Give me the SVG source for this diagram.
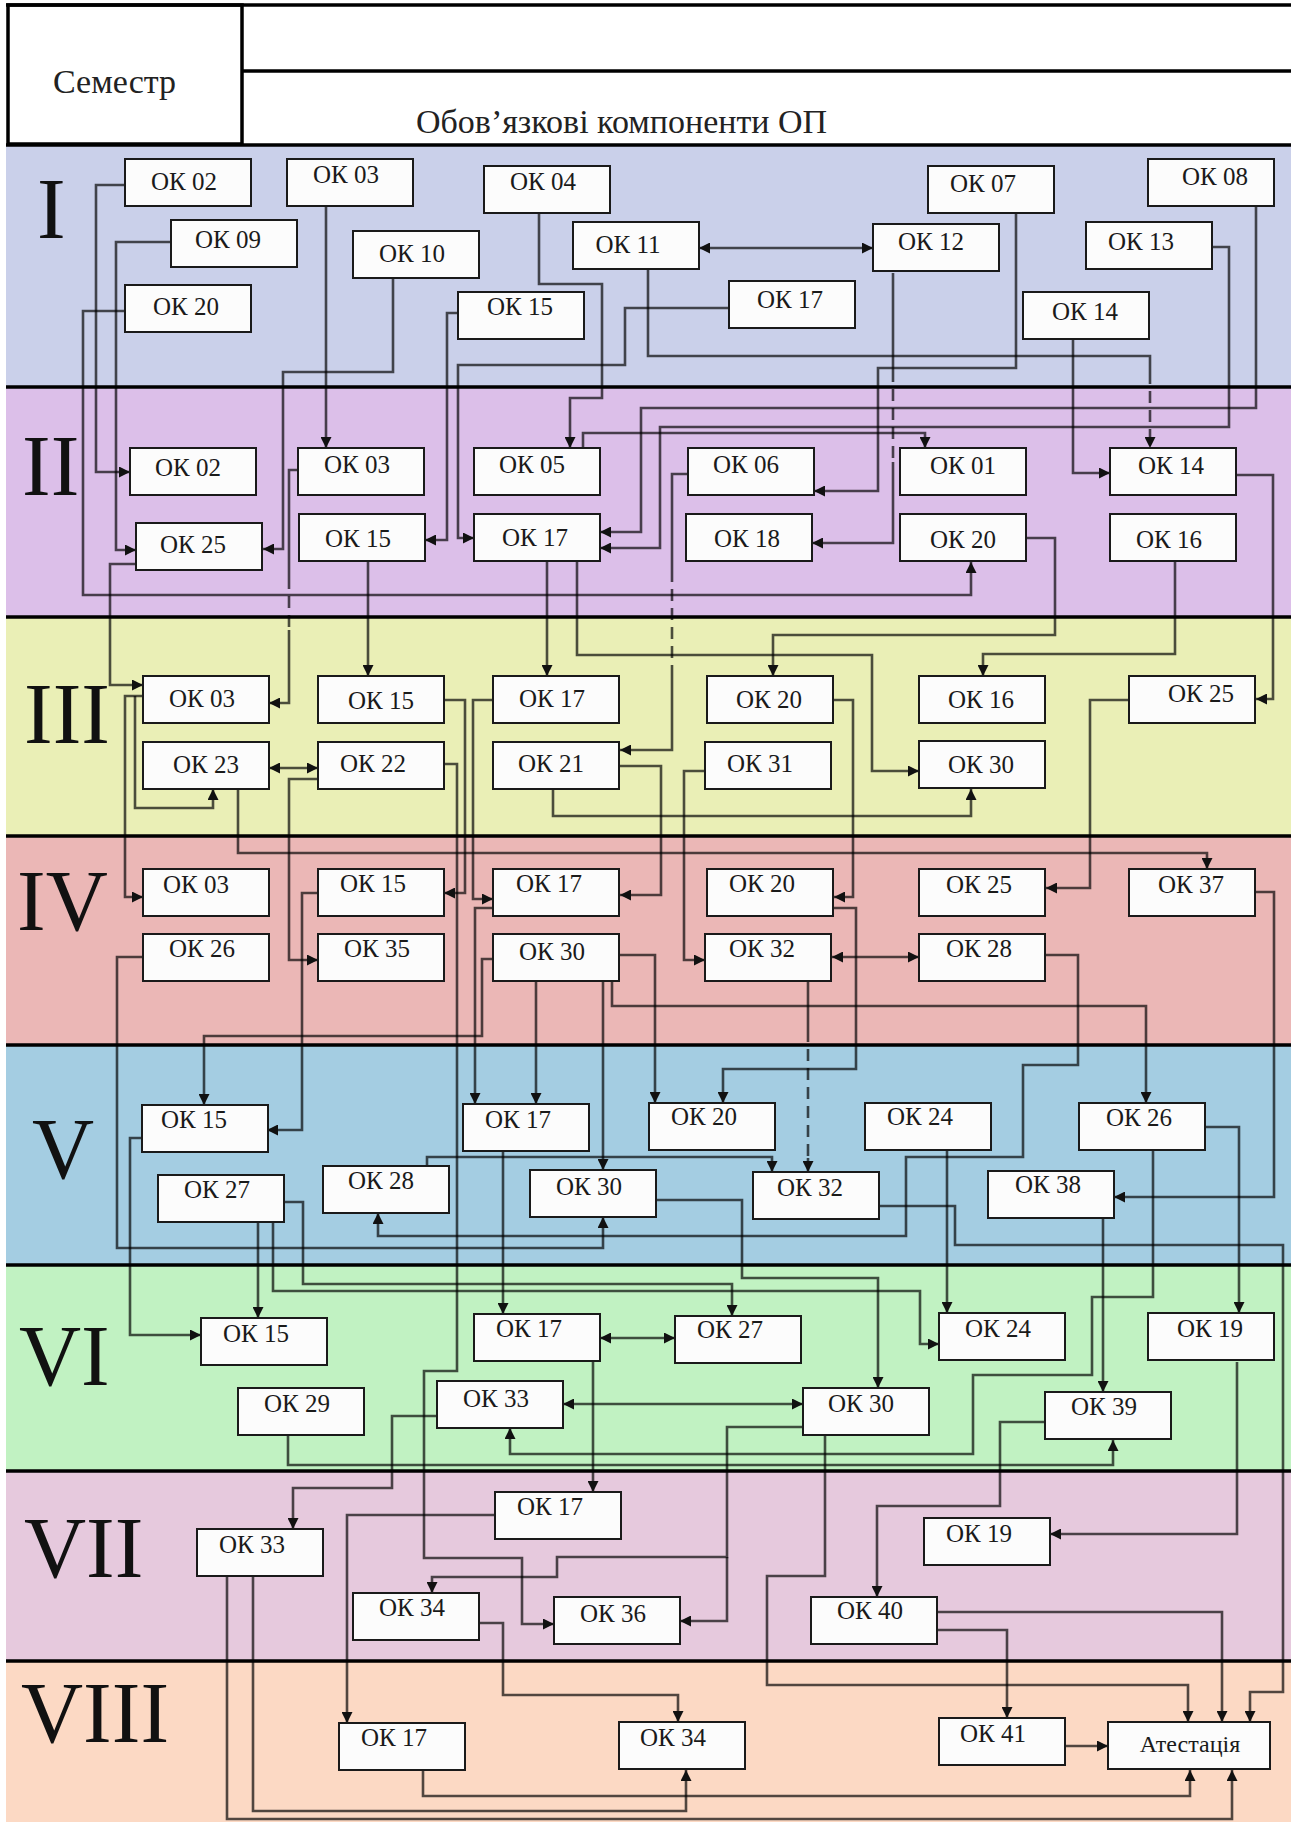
<svg xmlns="http://www.w3.org/2000/svg" width="1291" height="1823" viewBox="0 0 1291 1823">
<style>
.node rect{fill:#fcfcfc;stroke:#1a1a1a;stroke-width:2}
.node text{font-family:"Liberation Serif","Times New Roman",serif;font-size:25px;text-anchor:middle;fill:#1a1a1a}
.roman{font-family:"Liberation Serif","Times New Roman",serif;font-size:86px;fill:#111}
.hdr{font-family:"Liberation Serif","Times New Roman",serif;font-size:34px;fill:#222}
.sep{stroke:#000;stroke-width:3.5}
#connectors path{fill:none;stroke:#000;stroke-opacity:0.68;stroke-width:2.6;marker-end:url(#ah)}
#connectors path.nm{marker-end:none}
#connectors path.bi{marker-start:url(#ah)}
#connectors path.dash{stroke-dasharray:12 7}
</style>
<defs>
<marker id="ah" viewBox="0 0 10 10" refX="10" refY="5" markerWidth="11" markerHeight="11" markerUnits="userSpaceOnUse" orient="auto-start-reverse">
<path d="M0,0 L10,5 L0,10 z" fill="#111"/>
</marker>
</defs>
<rect x="0" y="0" width="1291" height="1823" fill="#ffffff"/>
<!-- bands -->
<g id="bands">
<rect x="6" y="145" width="1285" height="242" fill="#cad0ea"/>
<rect x="6" y="387" width="1285" height="230" fill="#dcbfe9"/>
<rect x="6" y="617" width="1285" height="219" fill="#eaefb6"/>
<rect x="6" y="836" width="1285" height="209" fill="#ebb7b6"/>
<rect x="6" y="1045" width="1285" height="220" fill="#a4cde2"/>
<rect x="6" y="1265" width="1285" height="206" fill="#c1f2c2"/>
<rect x="6" y="1471" width="1285" height="190" fill="#e6c9dd"/>
<rect x="6" y="1661" width="1285" height="161" fill="#fcd9c4"/>
</g>
<!-- header -->
<g id="header">
<line x1="6" y1="5" x2="1291" y2="5" class="sep"/>
<line x1="242" y1="71" x2="1291" y2="71" class="sep"/>
<rect x="8" y="5" width="234" height="139" fill="none" stroke="#000" stroke-width="3.5"/>
<text x="53" y="93" class="hdr">Семестр</text>
<text x="416" y="133" class="hdr">Обов’язкові компоненти ОП</text>
</g>
<g id="separators">
<line x1="6" y1="145" x2="1291" y2="145" class="sep" stroke-width="4.5"/>
<line x1="6" y1="387" x2="1291" y2="387" class="sep"/>
<line x1="6" y1="617" x2="1291" y2="617" class="sep"/>
<line x1="6" y1="836" x2="1291" y2="836" class="sep"/>
<line x1="6" y1="1045" x2="1291" y2="1045" class="sep"/>
<line x1="6" y1="1265" x2="1291" y2="1265" class="sep"/>
<line x1="6" y1="1471" x2="1291" y2="1471" class="sep"/>
<line x1="6" y1="1661" x2="1291" y2="1661" class="sep"/>
</g>
<g id="semesters">
<text x="37" y="238" class="roman">I</text>
<text x="22" y="495" class="roman">II</text>
<text x="24" y="743" class="roman">III</text>
<text x="17" y="930" class="roman">IV</text>
<text x="32" y="1178" class="roman">V</text>
<text x="19" y="1385" class="roman">VI</text>
<text x="24" y="1577" class="roman">VII</text>
<text x="21" y="1742" class="roman">VIII</text>
</g>
<!-- connectors -->
<g id="connectors">
<path d="M125,185 H96 V472 H130"/>
<path d="M171,242 H116 V550 H136"/>
<path d="M125,311 H83 V595 H971 V562"/>
<path d="M326,207 V448"/>
<path d="M393,278 V372 H283 V549 H263"/>
<path d="M539,213 V284 H602 V398 H570 V448"/>
<path d="M458,313 H447 V540 H425"/>
<path d="M729,308 H625 V365 H458 V538 H474"/>
<path class="bi" d="M699,248 H873"/>
<path class="nm" d="M648,269 V356 H1150 V372"/>
<path class="dash" d="M1150,372 V448"/>
<path class="nm" d="M893,273 V370"/>
<path class="nm dash" d="M893,370 V462"/>
<path d="M893,462 V543 H812"/>
<path d="M1016,213 V368 H878 V491 H814"/>
<path d="M1256,207 V408 H641 V532 H600"/>
<path d="M1212,247 H1229 V427 H660 V548 H600"/>
<path d="M583,448 V433 H925 V448"/>
<path d="M1073,340 V473 H1110"/>
<path d="M136,564 H110 V685 H143"/>
<path class="nm" d="M298,470 H289 V577"/>
<path class="nm dash" d="M289,577 V630"/>
<path d="M289,630 V703 H269"/>
<path d="M368,562 V676"/>
<path d="M547,562 V676"/>
<path d="M577,562 V655 H872 V771 H919"/>
<path d="M1026,538 H1055 V635 H773 V676"/>
<path d="M1175,562 V654 H983 V676"/>
<path d="M1236,475 H1273 V699 H1256"/>
<path class="nm" d="M688,474 H672 V570"/>
<path class="nm dash" d="M672,570 V667"/>
<path d="M672,667 V750 H620"/>
<path d="M143,696 H125 V897 H143"/>
<path d="M135,696 V808 H213 V789"/>
<path class="bi" d="M269,768 H318"/>
<path d="M318,779 H289 V960 H318"/>
<path d="M238,789 V853 H1207 V869"/>
<path d="M444,700 H465 V893 H444"/>
<path d="M444,764 H457 V1371 H424 V1558 H522 V1624 H554"/>
<path d="M493,700 H473 V899 H493"/>
<path d="M620,766 H661 V895 H620"/>
<path d="M553,789 V816 H971 V789"/>
<path d="M705,771 H684 V960 H705"/>
<path d="M834,700 H853 V897 H834"/>
<path d="M1129,700 H1090 V888 H1046"/>
<path d="M318,893 H302 V1130 H267"/>
<path d="M493,908 H475 V1104"/>
<path d="M536,982 V1104"/>
<path d="M493,959 H482 V1036 H204 V1105"/>
<path d="M603,982 V1170"/>
<path d="M619,955 H655 V1103"/>
<path d="M612,982 V1006 H1146 V1103"/>
<path d="M834,908 H856 V1069 H723 V1103"/>
<path class="nm" d="M808,982 V1030"/>
<path class="nm dash" d="M808,1030 V1158"/>
<path d="M808,1158 V1172"/>
<path class="bi" d="M832,957 H919"/>
<path d="M1256,892 H1274 V1197 H1114"/>
<path d="M1046,955 H1078 V1065 H1023 V1157 H906 V1236 H378 V1213"/>
<path d="M143,957 H117 V1248 H603 V1217"/>
<path d="M142,1138 H130 V1335 H201"/>
<path d="M258,1223 V1318"/>
<path d="M284,1202 H303 V1284 H732 V1316"/>
<path d="M273,1223 V1291 H920 V1344 H939"/>
<path d="M656,1200 H742 V1278 H878 V1388"/>
<path d="M503,1152 V1314"/>
<path d="M427,1166 V1157 H772 V1172"/>
<path d="M878,1206 H955 V1245 H1283 V1692 H1250 V1722"/>
<path d="M947,1150 V1313"/>
<path d="M1205,1127 H1239 V1313"/>
<path d="M1153,1150 V1297 H1092 V1375 H973 V1454 H510 V1428"/>
<path d="M1103,1217 V1392"/>
<path class="bi" d="M600,1338 H675"/>
<path d="M593,1362 V1492"/>
<path class="bi" d="M563,1404 H803"/>
<path d="M437,1416 H392 V1488 H293 V1529"/>
<path d="M288,1435 V1465 H1113 V1440"/>
<path d="M1045,1422 H1000 V1506 H877 V1597"/>
<path d="M1237,1362 V1534 H1050"/>
<path d="M803,1427 H727 V1557 H557 V1577 H432 V1593"/>
<path d="M727,1557 V1621 H680"/>
<path d="M825,1435 V1576 H767 V1685 H1188 V1722"/>
<path d="M495,1515 H347 V1723"/>
<path d="M478,1623 H503 V1695 H678 V1722"/>
<path d="M938,1612 H1222 V1722"/>
<path d="M938,1630 H1007 V1718"/>
<path d="M1065,1746 H1108"/>
<path d="M423,1770 V1796 H1190 V1770"/>
<path d="M253,1577 V1811 H686 V1770"/>
<path d="M227,1577 V1819 H1232 V1770"/>
</g>
<!-- nodes -->
<g id="n1-02" class="node"><rect x="125" y="159" width="126" height="47"/><text x="184" y="190">ОК 02</text></g>
<g id="n1-03" class="node"><rect x="287" y="159" width="126" height="47"/><text x="346" y="183">ОК 03</text></g>
<g id="n1-09" class="node"><rect x="171" y="220" width="126" height="47"/><text x="228" y="248">ОК 09</text></g>
<g id="n1-20" class="node"><rect x="125" y="285" width="126" height="47"/><text x="186" y="315">ОК 20</text></g>
<g id="n1-10" class="node"><rect x="353" y="231" width="126" height="47"/><text x="412" y="262">ОК 10</text></g>
<g id="n1-04" class="node"><rect x="484" y="166" width="126" height="47"/><text x="543" y="190">ОК 04</text></g>
<g id="n1-11" class="node"><rect x="573" y="222" width="126" height="47"/><text x="628" y="253">ОК 11</text></g>
<g id="n1-15" class="node"><rect x="458" y="292" width="126" height="47"/><text x="520" y="315">ОК 15</text></g>
<g id="n1-17" class="node"><rect x="729" y="281" width="126" height="47"/><text x="790" y="308">ОК 17</text></g>
<g id="n1-12" class="node"><rect x="873" y="224" width="126" height="47"/><text x="931" y="250">ОК 12</text></g>
<g id="n1-07" class="node"><rect x="928" y="166" width="126" height="47"/><text x="983" y="192">ОК 07</text></g>
<g id="n1-08" class="node"><rect x="1148" y="159" width="126" height="47"/><text x="1215" y="185">ОК 08</text></g>
<g id="n1-13" class="node"><rect x="1086" y="222" width="126" height="47"/><text x="1141" y="250">ОК 13</text></g>
<g id="n1-14" class="node"><rect x="1023" y="292" width="126" height="47"/><text x="1085" y="320">ОК 14</text></g>

<g id="n2-02" class="node"><rect x="130" y="448" width="126" height="47"/><text x="188" y="476">ОК 02</text></g>
<g id="n2-03" class="node"><rect x="298" y="448" width="126" height="47"/><text x="357" y="473">ОК 03</text></g>
<g id="n2-25" class="node"><rect x="136" y="523" width="126" height="47"/><text x="193" y="553">ОК 25</text></g>
<g id="n2-15" class="node"><rect x="299" y="514" width="126" height="47"/><text x="358" y="547">ОК 15</text></g>
<g id="n2-05" class="node"><rect x="474" y="448" width="126" height="47"/><text x="532" y="473">ОК 05</text></g>
<g id="n2-17" class="node"><rect x="474" y="514" width="126" height="47"/><text x="535" y="546">ОК 17</text></g>
<g id="n2-06" class="node"><rect x="688" y="448" width="126" height="47"/><text x="746" y="473">ОК 06</text></g>
<g id="n2-18" class="node"><rect x="686" y="514" width="126" height="47"/><text x="747" y="547">ОК 18</text></g>
<g id="n2-01" class="node"><rect x="900" y="448" width="126" height="47"/><text x="963" y="474">ОК 01</text></g>
<g id="n2-20" class="node"><rect x="900" y="514" width="126" height="47"/><text x="963" y="548">ОК 20</text></g>
<g id="n2-14" class="node"><rect x="1110" y="448" width="126" height="47"/><text x="1171" y="474">ОК 14</text></g>
<g id="n2-16" class="node"><rect x="1110" y="514" width="126" height="47"/><text x="1169" y="548">ОК 16</text></g>

<g id="n3-03" class="node"><rect x="143" y="676" width="126" height="47"/><text x="202" y="707">ОК 03</text></g>
<g id="n3-23" class="node"><rect x="143" y="742" width="126" height="47"/><text x="206" y="773">ОК 23</text></g>
<g id="n3-15" class="node"><rect x="318" y="676" width="126" height="47"/><text x="381" y="709">ОК 15</text></g>
<g id="n3-22" class="node"><rect x="318" y="742" width="126" height="47"/><text x="373" y="772">ОК 22</text></g>
<g id="n3-17" class="node"><rect x="493" y="676" width="126" height="47"/><text x="552" y="707">ОК 17</text></g>
<g id="n3-21" class="node"><rect x="493" y="742" width="126" height="47"/><text x="551" y="772">ОК 21</text></g>
<g id="n3-20" class="node"><rect x="707" y="676" width="126" height="47"/><text x="769" y="708">ОК 20</text></g>
<g id="n3-31" class="node"><rect x="705" y="742" width="126" height="47"/><text x="760" y="772">ОК 31</text></g>
<g id="n3-16" class="node"><rect x="919" y="676" width="126" height="47"/><text x="981" y="708">ОК 16</text></g>
<g id="n3-30" class="node"><rect x="919" y="741" width="126" height="47"/><text x="981" y="773">ОК 30</text></g>
<g id="n3-25" class="node"><rect x="1129" y="676" width="126" height="47"/><text x="1201" y="702">ОК 25</text></g>

<g id="n4-03" class="node"><rect x="143" y="869" width="126" height="47"/><text x="196" y="893">ОК 03</text></g>
<g id="n4-15" class="node"><rect x="318" y="869" width="126" height="47"/><text x="373" y="892">ОК 15</text></g>
<g id="n4-17" class="node"><rect x="493" y="869" width="126" height="47"/><text x="549" y="892">ОК 17</text></g>
<g id="n4-20" class="node"><rect x="707" y="869" width="126" height="47"/><text x="762" y="892">ОК 20</text></g>
<g id="n4-25" class="node"><rect x="919" y="869" width="126" height="47"/><text x="979" y="893">ОК 25</text></g>
<g id="n4-37" class="node"><rect x="1129" y="869" width="126" height="47"/><text x="1191" y="893">ОК 37</text></g>
<g id="n4-26" class="node"><rect x="143" y="934" width="126" height="47"/><text x="202" y="957">ОК 26</text></g>
<g id="n4-35" class="node"><rect x="318" y="934" width="126" height="47"/><text x="377" y="957">ОК 35</text></g>
<g id="n4-30" class="node"><rect x="493" y="934" width="126" height="47"/><text x="552" y="960">ОК 30</text></g>
<g id="n4-32" class="node"><rect x="705" y="934" width="126" height="47"/><text x="762" y="957">ОК 32</text></g>
<g id="n4-28" class="node"><rect x="919" y="934" width="126" height="47"/><text x="979" y="957">ОК 28</text></g>

<g id="n5-15" class="node"><rect x="142" y="1105" width="126" height="47"/><text x="194" y="1128">ОК 15</text></g>
<g id="n5-27" class="node"><rect x="158" y="1175" width="126" height="47"/><text x="217" y="1198">ОК 27</text></g>
<g id="n5-28" class="node"><rect x="323" y="1166" width="126" height="47"/><text x="381" y="1189">ОК 28</text></g>
<g id="n5-17" class="node"><rect x="463" y="1104" width="126" height="47"/><text x="518" y="1128">ОК 17</text></g>
<g id="n5-20" class="node"><rect x="649" y="1103" width="126" height="47"/><text x="704" y="1125">ОК 20</text></g>
<g id="n5-30" class="node"><rect x="530" y="1170" width="126" height="47"/><text x="589" y="1195">ОК 30</text></g>
<g id="n5-32" class="node"><rect x="753" y="1172" width="126" height="47"/><text x="810" y="1196">ОК 32</text></g>
<g id="n5-24" class="node"><rect x="865" y="1103" width="126" height="47"/><text x="920" y="1125">ОК 24</text></g>
<g id="n5-26" class="node"><rect x="1079" y="1103" width="126" height="47"/><text x="1139" y="1126">ОК 26</text></g>
<g id="n5-38" class="node"><rect x="988" y="1171" width="126" height="47"/><text x="1048" y="1193">ОК 38</text></g>

<g id="n6-15" class="node"><rect x="201" y="1318" width="126" height="47"/><text x="256" y="1342">ОК 15</text></g>
<g id="n6-17" class="node"><rect x="474" y="1314" width="126" height="47"/><text x="529" y="1337">ОК 17</text></g>
<g id="n6-27" class="node"><rect x="675" y="1316" width="126" height="47"/><text x="730" y="1338">ОК 27</text></g>
<g id="n6-24" class="node"><rect x="939" y="1313" width="126" height="47"/><text x="998" y="1337">ОК 24</text></g>
<g id="n6-19" class="node"><rect x="1148" y="1313" width="126" height="47"/><text x="1210" y="1337">ОК 19</text></g>
<g id="n6-29" class="node"><rect x="238" y="1388" width="126" height="47"/><text x="297" y="1412">ОК 29</text></g>
<g id="n6-33" class="node"><rect x="437" y="1381" width="126" height="47"/><text x="496" y="1407">ОК 33</text></g>
<g id="n6-30" class="node"><rect x="803" y="1388" width="126" height="47"/><text x="861" y="1412">ОК 30</text></g>
<g id="n6-39" class="node"><rect x="1045" y="1392" width="126" height="47"/><text x="1104" y="1415">ОК 39</text></g>

<g id="n7-33" class="node"><rect x="197" y="1529" width="126" height="47"/><text x="252" y="1553">ОК 33</text></g>
<g id="n7-17" class="node"><rect x="495" y="1492" width="126" height="47"/><text x="550" y="1515">ОК 17</text></g>
<g id="n7-34" class="node"><rect x="353" y="1593" width="126" height="47"/><text x="412" y="1616">ОК 34</text></g>
<g id="n7-36" class="node"><rect x="554" y="1597" width="126" height="47"/><text x="613" y="1622">ОК 36</text></g>
<g id="n7-19" class="node"><rect x="924" y="1518" width="126" height="47"/><text x="979" y="1542">ОК 19</text></g>
<g id="n7-40" class="node"><rect x="811" y="1597" width="126" height="47"/><text x="870" y="1619">ОК 40</text></g>

<g id="n8-17" class="node"><rect x="339" y="1723" width="126" height="47"/><text x="394" y="1746">ОК 17</text></g>
<g id="n8-34" class="node"><rect x="619" y="1722" width="126" height="47"/><text x="673" y="1746">ОК 34</text></g>
<g id="n8-41" class="node"><rect x="939" y="1718" width="126" height="47"/><text x="993" y="1742">ОК 41</text></g>
<g id="n8-att" class="node"><rect x="1108" y="1722" width="162" height="47"/><text x="1190" y="1752" style="font-size:24px">Атестація</text></g>
</svg>
